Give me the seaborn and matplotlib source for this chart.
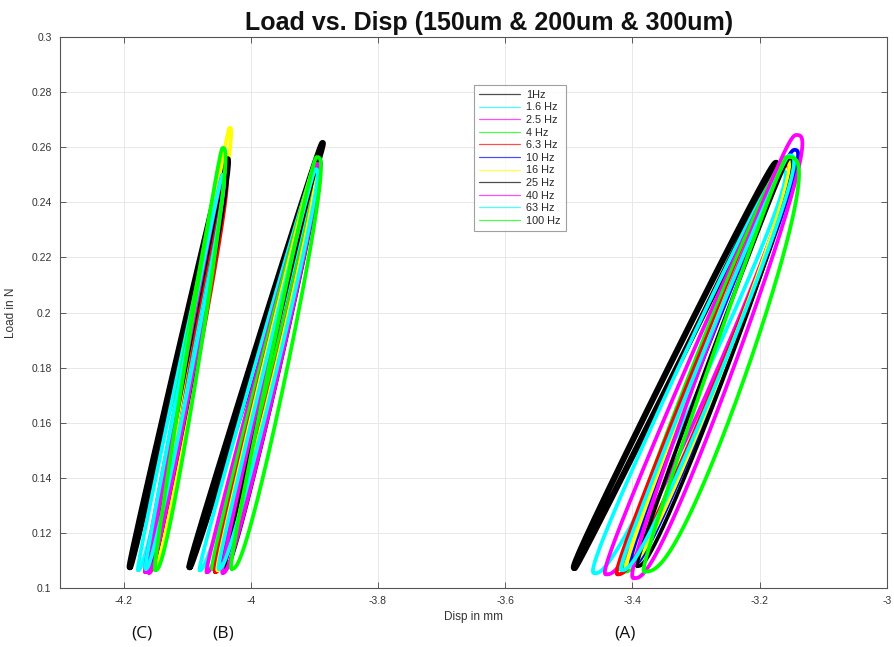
import numpy as np
import pandas as pd
import matplotlib
matplotlib.use("Agg")
import matplotlib.pyplot as plt
import seaborn as sns
from matplotlib.lines import Line2D

# ---------------- data ----------------
freq_labels = ["1Hz", "1.6 Hz", "2.5 Hz", "4 Hz", "6.3 Hz", "10 Hz",
               "16 Hz", "25 Hz", "40 Hz", "63 Hz", "100 Hz"]
freq_colors = ["#000000", "#00ffff", "#ff00ff", "#00ff00", "#ff0000", "#0000ff",
               "#ffff00", "#000000", "#ff00ff", "#00ffff", "#00ff00"]

# Group A (300um) - loop end points (disp mm, load N) and loop half-widths (mm)
a_disp_min = [-3.491, -3.459, -3.441, -3.412, -3.423, -3.401, -3.408, -3.392, -3.397, -3.417, -3.381]
a_load_min = [0.1073, 0.1054, 0.1050, 0.1060, 0.1050, 0.1080, 0.1076, 0.1080, 0.1036, 0.1065, 0.1060]
a_disp_max = [-3.174, -3.166, -3.159, -3.156, -3.161, -3.145, -3.161, -3.153, -3.142, -3.153, -3.156]
a_load_max = [0.2543, 0.2517, 0.2554, 0.2564, 0.2535, 0.2590, 0.2554, 0.2560, 0.2644, 0.2570, 0.2564]
a_w_left = [0.009, 0.018, 0.015, 0.020, 0.012, 0.015, 0.010, 0.008, 0.018, 0.010, 0.010]
a_w_right = [0.004, 0.030, 0.035, 0.030, 0.030, 0.025, 0.030, 0.025, 0.035, 0.030, 0.052]

# Group B (200um)
b_disp_min = [-4.096, -4.080, -4.069, -4.060, -4.056, -4.048, -4.052, -4.040, -4.044, -4.050, -4.030]
b_load_min = [0.1076, 0.1065, 0.1058, 0.1070, 0.1058, 0.1070, 0.1065, 0.1070, 0.1055, 0.1070, 0.1070]
b_disp_max = [-3.887, -3.898, -3.900, -3.897, -3.902, -3.893, -3.900, -3.893, -3.896, -3.898, -3.896]
b_load_max = [0.2615, 0.2540, 0.2520, 0.2550, 0.2500, 0.2560, 0.2530, 0.2550, 0.2540, 0.2520, 0.2564]
b_w_left = [0.004, 0.005, 0.005, 0.006, 0.005, 0.005, 0.005, 0.005, 0.006, 0.005, 0.007]
b_w_right = [0.004, 0.013, 0.015, 0.013, 0.015, 0.013, 0.015, 0.013, 0.015, 0.015, 0.022]

# Group C (150um)
c_disp_min = [-4.190, -4.177, -4.166, -4.160, -4.156, -4.162, -4.152, -4.158, -4.160, -4.165, -4.150]
c_load_min = [0.1076, 0.1065, 0.1058, 0.1070, 0.1065, 0.1070, 0.1065, 0.1070, 0.1055, 0.1070, 0.1065]
c_disp_max = [-4.040, -4.042, -4.043, -4.044, -4.040, -4.045, -4.033, -4.036, -4.044, -4.044, -4.044]
c_load_max = [0.2560, 0.2520, 0.2500, 0.2570, 0.2480, 0.2480, 0.2670, 0.2560, 0.2500, 0.2500, 0.2597]
c_w_left = [0.003, 0.004, 0.004, 0.005, 0.004, 0.004, 0.004, 0.004, 0.004, 0.004, 0.005]
c_w_right = [0.003, 0.011, 0.011, 0.013, 0.011, 0.010, 0.011, 0.010, 0.011, 0.011, 0.016]

x_ticks = [-4.2, -4.0, -3.8, -3.6, -3.4, -3.2, -3.0]
x_tick_labels = ["-4.2", "-4", "-3.8", "-3.6", "-3.4", "-3.2", "-3"]
y_ticks = [0.10, 0.12, 0.14, 0.16, 0.18, 0.20, 0.22, 0.24, 0.26, 0.28, 0.30]
y_tick_labels = ["0.1", "0.12", "0.14", "0.16", "0.18", "0.2", "0.22", "0.24", "0.26", "0.28", "0.3"]
group_labels = ["(C)", "(B)", "(A)"]


def loop(dmin, lmin, dmax, lmax, wl, wr, n=240):
    t = np.linspace(0, 2 * np.pi, n)
    u = (1 - np.cos(t)) / 2
    load = lmin + (lmax - lmin) * u
    chord = dmin + (dmax - dmin) * u
    s = np.sin(t)
    bulge = np.where(s >= 0, wr * np.abs(s) ** 0.7, -wl * np.abs(s) ** 0.7)
    return chord + bulge, load


groups = [
    (a_disp_min, a_load_min, a_disp_max, a_load_max, a_w_left, a_w_right),
    (b_disp_min, b_load_min, b_disp_max, b_load_max, b_w_left, b_w_right),
    (c_disp_min, c_load_min, c_disp_max, c_load_max, c_w_left, c_w_right),
]

sns.set_theme(style="whitegrid")
plt.rcParams["font.family"] = ["Liberation Sans", "DejaVu Sans"]

fig = plt.figure(figsize=(8.94, 6.47), dpi=100)
ax = fig.add_axes([0.067, 0.091, 0.925, 0.852])

for g in groups:
    for i, lab in enumerate(freq_labels):
        dx, ly = loop(g[0][i], g[1][i], g[2][i], g[3][i], g[4][i], g[5][i])
        df = pd.DataFrame({"disp": dx, "load": ly})
        lw = 4.4 if i == 0 else 2.7
        sns.lineplot(data=df, x="disp", y="load", sort=False, estimator=None,
                     color=freq_colors[i], lw=lw, ax=ax, legend=False)

ax.set_xlim(-4.3, -3.0)
ax.set_ylim(0.1, 0.3)
ax.set_xticks(x_ticks)
ax.set_xticklabels(x_tick_labels)
ax.set_yticks(y_ticks)
ax.set_yticklabels(y_tick_labels)
ax.grid(True, color="#e8e8e8", lw=0.7)
ax.set_facecolor("white")
for sp in ax.spines.values():
    sp.set_color("#555555")
    sp.set_linewidth(0.8)
ax.tick_params(direction="in", length=4, width=0.6, colors="#444444",
               labelsize=7.5, top=True, right=True, bottom=True, left=True,
               labelcolor="#333333", pad=6)
ax.set_xlabel("Disp in mm", fontsize=8.5, color="#333333", labelpad=3)
ax.set_ylabel("Load in N", fontsize=8.5, color="#333333", labelpad=10)
ax.set_title("Load vs. Disp (150um & 200um & 300um)", fontsize=18,
             fontweight="bold", color="#111111", pad=5, x=0.519)

handles = [Line2D([0], [0], color=c, lw=0.9, alpha=0.7) for c in freq_colors]
leg = ax.legend(handles, freq_labels, loc="upper left", bbox_to_anchor=(0.501, 0.913),
                fontsize=7.8, frameon=True, fancybox=False, handlelength=3.8,
                handletextpad=0.55, labelspacing=0.24, borderpad=0.45,
                borderaxespad=0)
leg.get_frame().set_edgecolor("#888888")
leg.get_frame().set_linewidth(0.8)

for lab, xp in zip(group_labels, [142, 223, 625]):
    fig.text(xp / 894, 1 - 633 / 647, lab, ha="center", va="center",
             fontsize=12.5, family=["Open Sans", "DejaVu Sans"], color="#111111")

fig.savefig("out.png", dpi=100)
